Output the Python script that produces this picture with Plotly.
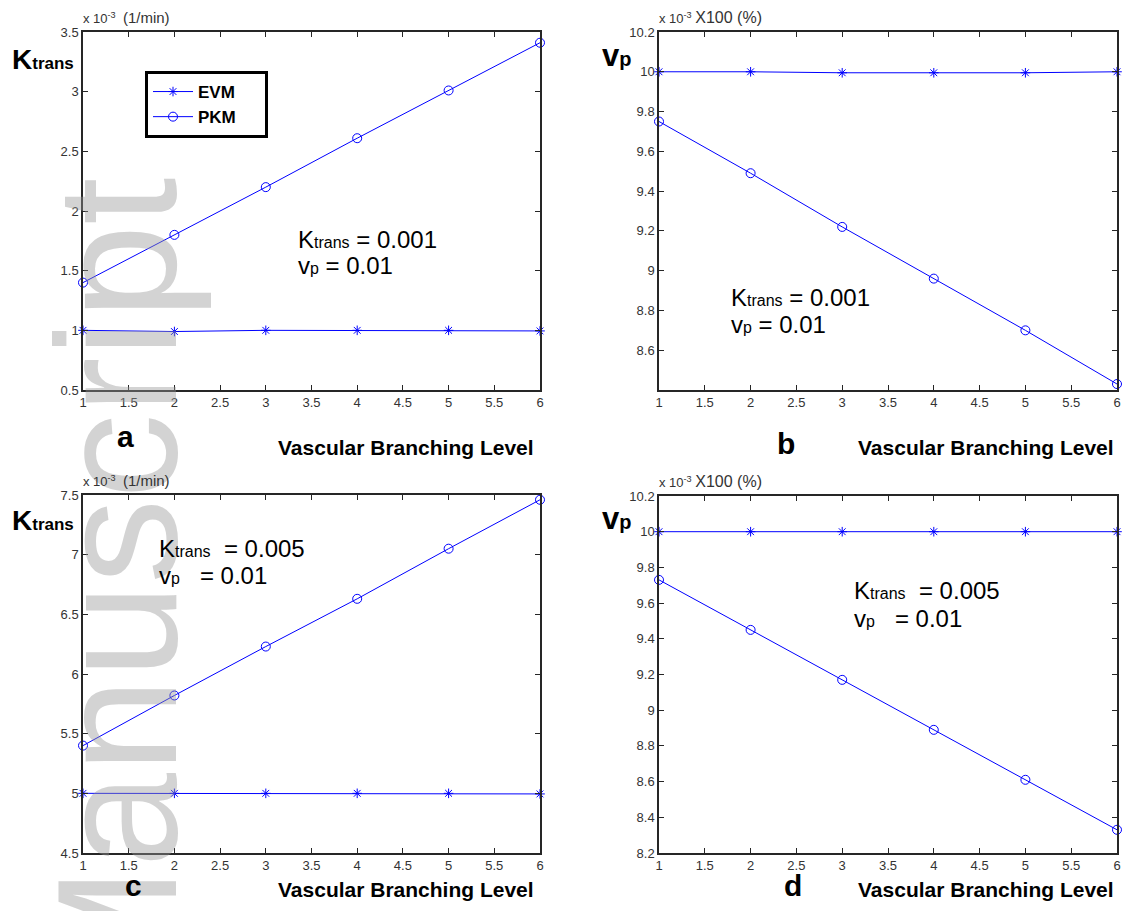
import plotly.graph_objects as go

W, H = 1123, 911
FONT = "Liberation Sans, Arial, sans-serif"

# ---------------- data ----------------
levels = [1, 2, 3, 4, 5, 6]
x_ticks = [1, 1.5, 2, 2.5, 3, 3.5, 4, 4.5, 5, 5.5, 6]
x_tick_labels = ["1", "1.5", "2", "2.5", "3", "3.5", "4", "4.5", "5", "5.5", "6"]

a_evm = [1.00, 0.99, 1.00, 1.00, 1.00, 0.995]
a_pkm = [1.40, 1.80, 2.20, 2.61, 3.01, 3.41]
b_evm = [10.00, 10.00, 9.995, 9.995, 9.995, 10.00]
b_pkm = [9.75, 9.49, 9.22, 8.96, 8.70, 8.43]
c_evm = [5.00, 5.00, 5.00, 5.00, 5.00, 4.995]
c_pkm = [5.40, 5.82, 6.23, 6.63, 7.05, 7.46]
d_evm = [10.00, 10.00, 10.00, 10.00, 10.00, 10.00]
d_pkm = [9.73, 9.45, 9.17, 8.89, 8.61, 8.33]

a_yticks = [0.5, 1, 1.5, 2, 2.5, 3, 3.5]
a_ylabels = ["0.5", "1", "1.5", "2", "2.5", "3", "3.5"]
b_yticks = [8.6, 8.8, 9.0, 9.2, 9.4, 9.6, 9.8, 10.0, 10.2]
b_ylabels = ["8.6", "8.8", "9", "9.2", "9.4", "9.6", "9.8", "10", "10.2"]
c_yticks = [4.5, 5, 5.5, 6, 6.5, 7, 7.5]
c_ylabels = ["4.5", "5", "5.5", "6", "6.5", "7", "7.5"]
d_yticks = [8.2, 8.4, 8.6, 8.8, 9.0, 9.2, 9.4, 9.6, 9.8, 10.0, 10.2]
d_ylabels = ["8.2", "8.4", "8.6", "8.8", "9", "9.2", "9.4", "9.6", "9.8", "10", "10.2"]

series_names = ["EVM", "PKM"]


def px(x):
    return x / W


def py(y):
    return 1 - y / H


BLUE = "#0000ff"
AXC = "#262626"

panels = [
    dict(xa="x", ya="y", evm=a_evm, pkm=a_pkm, yr=[0.5, 3.5], yt=a_yticks, yl=a_ylabels,
         dx=[83, 540], dy=[32, 390], legend=True),
    dict(xa="x2", ya="y2", evm=b_evm, pkm=b_pkm, yr=[8.4, 10.2], yt=b_yticks, yl=b_ylabels,
         dx=[659, 1117], dy=[32, 390], legend=False),
    dict(xa="x3", ya="y3", evm=c_evm, pkm=c_pkm, yr=[4.5, 7.5], yt=c_yticks, yl=c_ylabels,
         dx=[83, 540], dy=[495, 853], legend=False),
    dict(xa="x4", ya="y4", evm=d_evm, pkm=d_pkm, yr=[8.2, 10.2], yt=d_yticks, yl=d_ylabels,
         dx=[659, 1117], dy=[496, 853], legend=False),
]

fig = go.Figure()
layout = {}
pad = "&nbsp;" * 5
for i, p in enumerate(panels):
    fig.add_trace(go.Scatter(
        x=levels, y=p["evm"], xaxis=p["xa"], yaxis=p["ya"], mode="lines+markers",
        name="<b>" + series_names[0] + "</b>" + pad, showlegend=p["legend"], cliponaxis=False,
        line=dict(color=BLUE, width=1),
        marker=dict(symbol="asterisk-open", size=8, color=BLUE, line=dict(color=BLUE, width=1)),
    ))
    fig.add_trace(go.Scatter(
        x=levels, y=p["pkm"], xaxis=p["xa"], yaxis=p["ya"], mode="lines+markers",
        name="<b>" + series_names[1] + "</b>" + pad, showlegend=p["legend"], cliponaxis=False,
        line=dict(color=BLUE, width=1),
        marker=dict(symbol="circle-open", size=9, color=BLUE, line=dict(color=BLUE, width=1)),
    ))
    common = dict(showgrid=False, zeroline=False, showline=True, linecolor=AXC, linewidth=1.5,
                  mirror="ticks", ticks="inside", ticklen=5, tickwidth=1, tickcolor=AXC,
                  automargin=False,
                  tickfont=dict(family=FONT, size=13, color="#333333"))
    xk = "xaxis" + ("" if i == 0 else str(i + 1))
    yk = "yaxis" + ("" if i == 0 else str(i + 1))
    layout[xk] = dict(common, domain=[px(p["dx"][0]), px(p["dx"][1])], range=[1, 6],
                      tickmode="array", tickvals=x_ticks, ticktext=x_tick_labels,
                      anchor=p["ya"])
    layout[yk] = dict(common, domain=[py(p["dy"][1]), py(p["dy"][0])], range=p["yr"],
                      tickmode="array", tickvals=p["yt"], ticktext=p["yl"],
                      anchor=p["xa"])

annotations = []


def add_text(text, x, y, size, xanchor="left", yanchor="middle", color="black", **kw):
    annotations.append(dict(text=text, x=px(x), y=py(y), xref="paper", yref="paper",
                            xanchor=xanchor, yanchor=yanchor, showarrow=False,
                            font=dict(family=FONT, size=size, color=color), **kw))


# watermark
annotations.append(dict(text="Manuscript", x=px(117), y=py(594), xref="paper", yref="paper",
                        xanchor="center", yanchor="middle", showarrow=False, textangle=-90,
                        font=dict(family=FONT, size=170, color="rgba(150,150,150,0.42)")))

# exponent / unit labels
add_text("x 10<sup>-3</sup>  <span style='font-size:15px'>(1/min)</span>", 81, 28, 13,
         yanchor="bottom", color="#333333")
add_text("x 10<sup>-3</sup> <span style='font-size:16px'>X100 (%)</span>", 657, 28, 13,
         yanchor="bottom", color="#333333")
add_text("x 10<sup>-3</sup>  <span style='font-size:15px'>(1/min)</span>", 81, 491, 13,
         yanchor="bottom", color="#333333")
add_text("x 10<sup>-3</sup> <span style='font-size:16px'>X100 (%)</span>", 657, 492, 13,
         yanchor="bottom", color="#333333")

# y-axis quantity labels
add_text("<b>K<span style='font-size:17px'>trans</span></b>", 10, 60, 28)
add_text("<b>K<span style='font-size:17px'>trans</span></b>", 10, 520, 28)
add_text("<b>v<span style='font-size:20px'>p</span></b>", 600, 55, 31)
add_text("<b>v<span style='font-size:20px'>p</span></b>", 600, 518, 31)

# in-plot parameter notes
sub = "<span style='font-size:16px'>%s</span>"
add_text("K" + sub % "trans" + " = 0.001", 296, 239, 24)
add_text("v" + sub % "p" + " = 0.01", 296, 265, 24)
add_text("K" + sub % "trans" + " = 0.001", 729, 297, 24)
add_text("v" + sub % "p" + " = 0.01", 729, 324, 24)
add_text("K" + sub % "trans" + "&nbsp;&nbsp;= 0.005", 157, 548, 24)
add_text("v" + sub % "p" + "&nbsp;&nbsp;&nbsp;= 0.01", 157, 575, 24)
add_text("K" + sub % "trans" + "&nbsp;&nbsp;= 0.005", 852, 590, 24)
add_text("v" + sub % "p" + "&nbsp;&nbsp;&nbsp;= 0.01", 852, 618, 24)

# panel letters and x-axis titles
add_text("<b>a</b>", 126, 436, 30, xanchor="center")
add_text("<b>b</b>", 786, 443, 30, xanchor="center")
add_text("<b>c</b>", 133, 885, 30, xanchor="center")
add_text("<b>d</b>", 793, 885, 30, xanchor="center")
for (xr, yc) in [(536, 447), (1116, 447), (536, 889), (1116, 889)]:
    add_text("<b>Vascular Branching Level</b>", xr, yc, 21, xanchor="right")

fig.update_layout(
    template="none",
    width=W, height=H, margin=dict(l=0, r=0, t=0, b=0, pad=0, autoexpand=False),
    paper_bgcolor="white", plot_bgcolor="white",
    annotations=annotations,
    legend=dict(x=px(145), y=py(71), xanchor="left", yanchor="top",
                bordercolor="black", borderwidth=3, bgcolor="white",
                font=dict(family=FONT, size=17, color="black"),
                tracegroupgap=0, itemwidth=40),
    **layout,
)

fig.write_html("out.html", config={"displayModeBar": False},
               post_script="document.body.style.margin='0px';")
